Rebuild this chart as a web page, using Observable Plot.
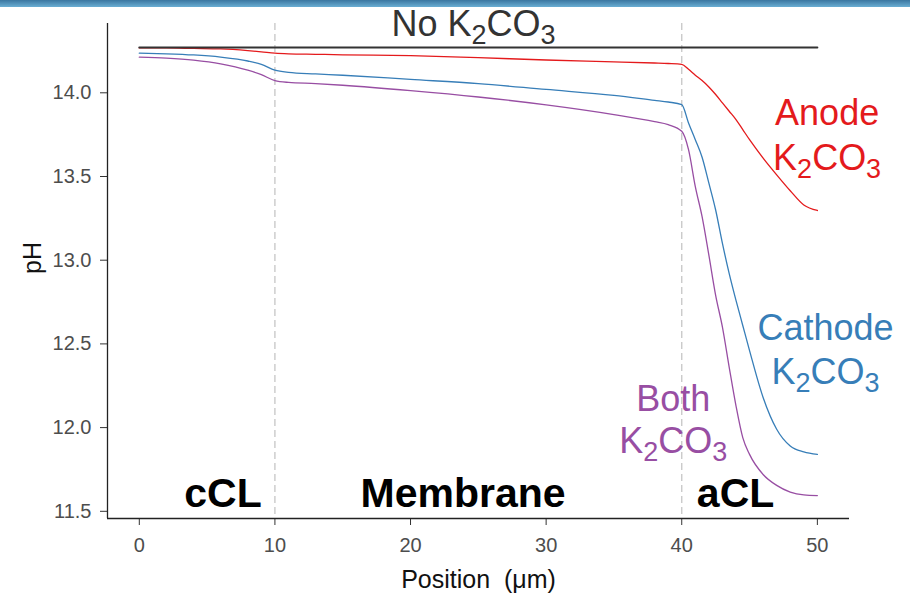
<!DOCTYPE html>
<html><head><meta charset="utf-8">
<script src="https://cdn.jsdelivr.net/npm/d3@7"></script>
<script src="https://cdn.jsdelivr.net/npm/@observablehq/plot@0.6"></script>
<style>
body{margin:0;background:#fff;}
#chart{position:absolute;left:0;top:0;}
#bar{position:absolute;left:0;top:0;width:910px;height:7px;background:linear-gradient(#3a76a0,#6aaed3);}
</style></head><body>
<div id="chart"></div><div id="bar"></div>
<script>
// ---- data ----
const position =     [0,      2,      4,      6,      8,      9,      10,     11,     13,     15,     20,     25,     30,     35,     38,     39,     40,     40.5,   41,     41.5,   42,     42.5,   43,     43.5,   44,     44.5,   45,     46,     47,     48,     49,     50];
const noK2CO3 =      [14.27,  14.27,  14.27,  14.27,  14.27,  14.27,  14.27,  14.27,  14.27,  14.27,  14.27,  14.27,  14.27,  14.27,  14.27,  14.27,  14.27,  14.27,  14.27,  14.27,  14.27,  14.27,  14.27,  14.27,  14.27,  14.27,  14.27,  14.27,  14.27,  14.27,  14.27,  14.27];
const anodeK2CO3 =   [14.268, 14.268, 14.265, 14.262, 14.252, 14.245, 14.237, 14.233, 14.230, 14.227, 14.222, 14.210, 14.196, 14.185, 14.178, 14.175, 14.170, 14.140, 14.105, 14.073, 14.035, 13.990, 13.940, 13.890, 13.840, 13.780, 13.720, 13.610, 13.510, 13.415, 13.330, 13.297];
const cathodeK2CO3 = [14.237, 14.233, 14.226, 14.213, 14.190, 14.170, 14.135, 14.122, 14.113, 14.105, 14.080, 14.055, 14.020, 13.985, 13.955, 13.945, 13.930, 13.820, 13.720, 13.615, 13.460, 13.300, 13.100, 12.920, 12.760, 12.610, 12.460, 12.180, 11.990, 11.890, 11.855, 11.840];
const bothK2CO3 =    [14.213, 14.207, 14.195, 14.173, 14.135, 14.108, 14.073, 14.062, 14.055, 14.045, 14.013, 13.975, 13.928, 13.870, 13.828, 13.810, 13.770, 13.660, 13.440, 13.260, 13.030, 12.790, 12.600, 12.360, 12.130, 11.940, 11.840, 11.720, 11.655, 11.615, 11.598, 11.594];

const seriesNames  = ["No K2CO3", "Anode K2CO3", "Cathode K2CO3", "Both K2CO3"];
const seriesValues = [noK2CO3, anodeK2CO3, cathodeK2CO3, bothK2CO3];
const seriesColors = ["#333333", "#e41a1c", "#377eb8", "#984ea3"];

const xTicks = [0, 10, 20, 30, 40, 50];
const yTicks = [11.5, 12.0, 12.5, 13.0, 13.5, 14.0];
const regionBoundaries = [10, 40];
const regionNames = ["cCL", "Membrane", "aCL"];

// ---- layout ----
const xDomain = [-2.345, 52.37];
const yDomain = [11.457, 14.414];
const FONT = "'Liberation Sans', Arial, Helvetica, sans-serif";

const rows = seriesNames.flatMap((s, k) => position.map((p, i) => ({series: s, position: p, pH: seriesValues[k][i]})));
const colored = rows.filter(d => d.series !== "No K2CO3");
const baseline = rows.filter(d => d.series === "No K2CO3");

// annotation placement (data units)
const seriesLabels = [
  {text: "No K2CO3", x: 24.65, y: 14.342, color: seriesColors[0]},
  {text: "Anode",    x: 50.72, y: 13.805, color: seriesColors[1]},
  {text: "K2CO3",    x: 50.72, y: 13.536, color: seriesColors[1]},
  {text: "Cathode",  x: 50.60, y: 12.526, color: seriesColors[2]},
  {text: "K2CO3",    x: 50.60, y: 12.263, color: seriesColors[2]},
  {text: "Both",     x: 39.37, y: 12.102, color: seriesColors[3]},
  {text: "K2CO3",    x: 39.37, y: 11.851, color: seriesColors[3]}
];
const regionLabels = [
  {text: regionNames[0], x: 6.17,  y: 11.523},
  {text: regionNames[1], x: 23.87, y: 11.523},
  {text: regionNames[2], x: 43.97, y: 11.523}
];

const chart = Plot.plot({
  width: 910,
  height: 597,
  marginTop: 23,
  marginBottom: 79,
  marginLeft: 107,
  marginRight: 61,
  style: {fontSize: "20px", fontFamily: FONT, color: "#4d4d4d", background: "transparent"},
  x: {domain: xDomain, ticks: xTicks, tickFormat: d => String(d), tickSize: 7, tickPadding: 12, label: null},
  y: {domain: yDomain, ticks: yTicks, tickFormat: d3.format(".1f"), tickSize: 7, tickPadding: 9, label: null},
  color: {domain: seriesNames, range: seriesColors},
  marks: [
    Plot.ruleX(regionBoundaries, {stroke: "#c6c6c6", strokeWidth: 1.3, strokeDasharray: "7,4"}),
    Plot.line(colored, {x: "position", y: "pH", z: "series", stroke: "series", strokeWidth: 1.3, curve: "monotone-x"}),
    Plot.line(baseline, {x: "position", y: "pH", stroke: "series", strokeWidth: 2}),
    Plot.ruleX([xDomain[0]], {stroke: "#222", strokeWidth: 1.3}),
    Plot.ruleY([yDomain[0]], {stroke: "#222", strokeWidth: 1.3}),
    Plot.text(seriesLabels, {x: "x", y: "y", text: "text", fill: "color", fontSize: 36, lineAnchor: "bottom", textAnchor: "middle"}),
    Plot.text(regionLabels, {x: "x", y: "y", text: "text", fill: "#000", fontSize: 41, fontWeight: "bold", lineAnchor: "bottom", textAnchor: "middle"}),
    Plot.text(["Position\u00a0 (μm)"], {frameAnchor: "bottom", dy: 69, lineAnchor: "bottom", fontSize: 25, fill: "#111"}),
    Plot.text(["pH"], {frameAnchor: "left", dx: -67, dy: 3, rotate: -90, lineAnchor: "bottom", fontSize: 25, fill: "#111"})
  ]
});

// darker tick marks (labels stay grey)
d3.select(chart).selectAll('g[aria-label$="tick"] path, g[aria-label$="tick"] line').attr("stroke", "#333");

// subscripts for chemical formula
d3.select(chart).selectAll("text").each(function () {
  const t = this.textContent;
  if (!t.includes("K2CO3")) return;
  const sel = d3.select(this);
  sel.text(null);
  let shifted = false;
  for (const part of t.split(/(\d)/).filter(s => s !== "")) {
    const digit = /^\d$/.test(part);
    const ts = sel.append("tspan").text(part);
    if (digit) {
      ts.attr("font-size", "0.75em");
      if (!shifted) { ts.attr("dy", 8); shifted = true; }
    } else if (shifted) {
      ts.attr("dy", -8); shifted = false;
    }
  }
});

document.getElementById("chart").appendChild(chart);
</script>
</body></html>
